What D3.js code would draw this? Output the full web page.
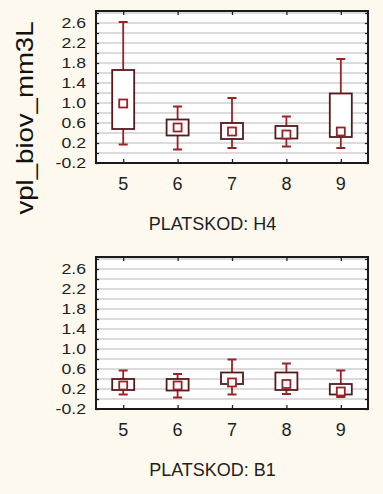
<!DOCTYPE html>
<html>
<head>
<meta charset="utf-8">
<script src="https://cdn.jsdelivr.net/npm/d3@7"></script>
<style>
  html, body { margin: 0; padding: 0; background: #fdf9ee; }
  svg { display: block; }
</style>
</head>
<body>
<div id="chart-area"></div>
<script>
// DATA
const categories = [5, 6, 7, 8, 9]
const yLabelTicks = [-0.2, 0.2, 0.6, 1.0, 1.4, 1.8, 2.2, 2.6]
const yGridTicks = [-0.2, 0, 0.2, 0.4, 0.6, 0.8, 1.0, 1.2, 1.4, 1.6, 1.8, 2.0, 2.2, 2.4, 2.6, 2.8]

// PLATSKOD: H4
const h4WhiskerLow = [0.17, 0.07, 0.10, 0.13, 0.10]
const h4BoxLow = [0.48, 0.35, 0.28, 0.29, 0.32]
const h4Median = [0.99, 0.51, 0.43, 0.37, 0.43]
const h4BoxHigh = [1.66, 0.67, 0.60, 0.54, 1.19]
const h4WhiskerHigh = [2.62, 0.93, 1.10, 0.73, 1.88]

// PLATSKOD: B1
const b1WhiskerLow = [0.09, 0.03, 0.09, 0.10, 0.04]
const b1BoxLow = [0.18, 0.17, 0.30, 0.18, 0.09]
const b1Median = [0.27, 0.27, 0.33, 0.30, 0.15]
const b1BoxHigh = [0.40, 0.40, 0.53, 0.53, 0.30]
const b1WhiskerHigh = [0.57, 0.50, 0.79, 0.71, 0.57]

const panelTitles = ["PLATSKOD: H4", "PLATSKOD: B1"]
const yTitle = "vpl_biov_mm3L"

const WIDTH = 383
const HEIGHT = 494
const PLOT = { LEFT: 96, RIGHT: 368 }
const PANEL_TOPS = [11, 257]
const PANEL_H = 152

const BOX_COLOR = "#551a1a"
const WHISKER_COLOR = "#9a2226"

const svg = d3.select("#chart-area").append("svg")
  .attr("width", WIDTH)
  .attr("height", HEIGHT)

svg.append("rect")
  .attr("width", WIDTH).attr("height", HEIGHT)
  .attr("fill", "#fdf9ee")

const x = d3.scalePoint()
  .domain(categories)
  .range([PLOT.LEFT, PLOT.RIGHT])
  .padding(0.5)

const panels = [
  { title: panelTitles[0], lo: h4WhiskerLow, q1: h4BoxLow, med: h4Median, q3: h4BoxHigh, hi: h4WhiskerHigh },
  { title: panelTitles[1], lo: b1WhiskerLow, q1: b1BoxLow, med: b1Median, q3: b1BoxHigh, hi: b1WhiskerHigh }
]

panels.forEach((p, i) => {
  const top = PANEL_TOPS[i]
  const bottom = top + PANEL_H
  const y = d3.scaleLinear()
    .domain([-0.2, 2.84])
    .range([bottom, top])

  const g = svg.append("g")

  // plot area
  g.append("rect")
    .attr("x", PLOT.LEFT).attr("y", top)
    .attr("width", PLOT.RIGHT - PLOT.LEFT).attr("height", PANEL_H)
    .attr("fill", "#ffffff")

  // GRID
  g.selectAll(".grid")
    .data(yGridTicks)
    .enter().append("line")
    .attr("class", "grid")
    .attr("x1", PLOT.LEFT).attr("x2", PLOT.RIGHT)
    .attr("y1", d => y(d)).attr("y2", d => y(d))
    .attr("stroke", "#cfcfcf")
    .attr("stroke-width", 1.6)

  // AXES (ticks inside the frame)
  const leftAxis = d3.axisLeft(y).tickValues(yGridTicks).tickSize(-3).tickFormat("")
  const rightAxis = d3.axisRight(y).tickValues(yGridTicks).tickSize(-3).tickFormat("")
  const topAxis = d3.axisTop(x).tickSize(-4).tickFormat("")
  const bottomAxis = d3.axisBottom(x).tickSize(-4).tickFormat("")

  g.append("g").attr("transform", `translate(${PLOT.LEFT},0)`).call(leftAxis)
  g.append("g").attr("transform", `translate(${PLOT.RIGHT},0)`).call(rightAxis)
  g.append("g").attr("transform", `translate(0,${top})`).call(topAxis)
  g.append("g").attr("transform", `translate(0,${bottom})`).call(bottomAxis)
  g.selectAll(".domain").remove()
  g.selectAll(".tick line").attr("stroke", "#222").attr("stroke-width", 1.3)

  // y tick labels
  g.selectAll(".ylab")
    .data(yLabelTicks)
    .enter().append("text")
    .attr("class", "ylab")
    .attr("text-anchor", "end")
    .attr("transform", d => `translate(86,${y(d) + 5}) scale(1.22,1)`)
    .attr("font-family", "Liberation Sans, Arial, sans-serif")
    .attr("font-size", 14.5)
    .attr("fill", "#1e1e1e")
    .text(d => d.toFixed(1))

  // x tick labels
  g.selectAll(".xlab")
    .data(categories)
    .enter().append("text")
    .attr("class", "xlab")
    .attr("x", d => x(d))
    .attr("y", bottom + 27)
    .attr("text-anchor", "middle")
    .attr("font-family", "Liberation Sans, Arial, sans-serif")
    .attr("font-size", 18)
    .attr("fill", "#1e1e1e")
    .text(d => d)

  // panel title
  g.append("text")
    .attr("x", 212.5)
    .attr("y", bottom + 67)
    .attr("text-anchor", "middle")
    .attr("font-family", "Liberation Sans, Arial, sans-serif")
    .attr("font-size", 18)
    .attr("fill", "#1e1e1e")
    .text(p.title)

  // BOXES
  const idx = d3.range(categories.length)
  const boxes = g.selectAll(".box")
    .data(idx)
    .enter().append("g")
    .attr("class", "box")

  const boxW = 22
  const capW = 9
  const sq = 8

  // whiskers
  boxes.append("line")
    .attr("x1", d => x(categories[d])).attr("x2", d => x(categories[d]))
    .attr("y1", d => y(p.hi[d])).attr("y2", d => y(p.q3[d]))
    .attr("stroke", WHISKER_COLOR).attr("stroke-width", 1.8)
  boxes.append("line")
    .attr("x1", d => x(categories[d])).attr("x2", d => x(categories[d]))
    .attr("y1", d => y(p.q1[d])).attr("y2", d => y(p.lo[d]))
    .attr("stroke", WHISKER_COLOR).attr("stroke-width", 1.8)
  boxes.append("line")
    .attr("x1", d => x(categories[d]) - capW / 2).attr("x2", d => x(categories[d]) + capW / 2)
    .attr("y1", d => y(p.hi[d])).attr("y2", d => y(p.hi[d]))
    .attr("stroke", WHISKER_COLOR).attr("stroke-width", 2)
  boxes.append("line")
    .attr("x1", d => x(categories[d]) - capW / 2).attr("x2", d => x(categories[d]) + capW / 2)
    .attr("y1", d => y(p.lo[d])).attr("y2", d => y(p.lo[d]))
    .attr("stroke", WHISKER_COLOR).attr("stroke-width", 2)

  // box
  boxes.append("rect")
    .attr("x", d => x(categories[d]) - boxW / 2)
    .attr("y", d => y(p.q3[d]))
    .attr("width", boxW)
    .attr("height", d => y(p.q1[d]) - y(p.q3[d]))
    .attr("fill", "#ffffff")
    .attr("stroke", BOX_COLOR).attr("stroke-width", 1.8)

  // median square
  boxes.append("rect")
    .attr("x", d => x(categories[d]) - sq / 2)
    .attr("y", d => y(p.med[d]) - sq / 2)
    .attr("width", sq).attr("height", sq)
    .attr("fill", "#ffffff")
    .attr("stroke", WHISKER_COLOR).attr("stroke-width", 1.8)

  // frame
  g.append("rect")
    .attr("x", PLOT.LEFT).attr("y", top)
    .attr("width", PLOT.RIGHT - PLOT.LEFT).attr("height", PANEL_H)
    .attr("fill", "none")
    .attr("stroke", "#1a1a1a")
    .attr("stroke-width", 2)
})

// Y TITLE
svg.append("text")
  .attr("transform", "translate(33,118) rotate(-90)")
  .attr("text-anchor", "middle")
  .attr("font-family", "Liberation Sans, Arial, sans-serif")
  .attr("font-size", 24)
  .attr("textLength", 193)
  .attr("lengthAdjust", "spacingAndGlyphs")
  .attr("fill", "#111")
  .text(yTitle)
</script>
</body>
</html>
